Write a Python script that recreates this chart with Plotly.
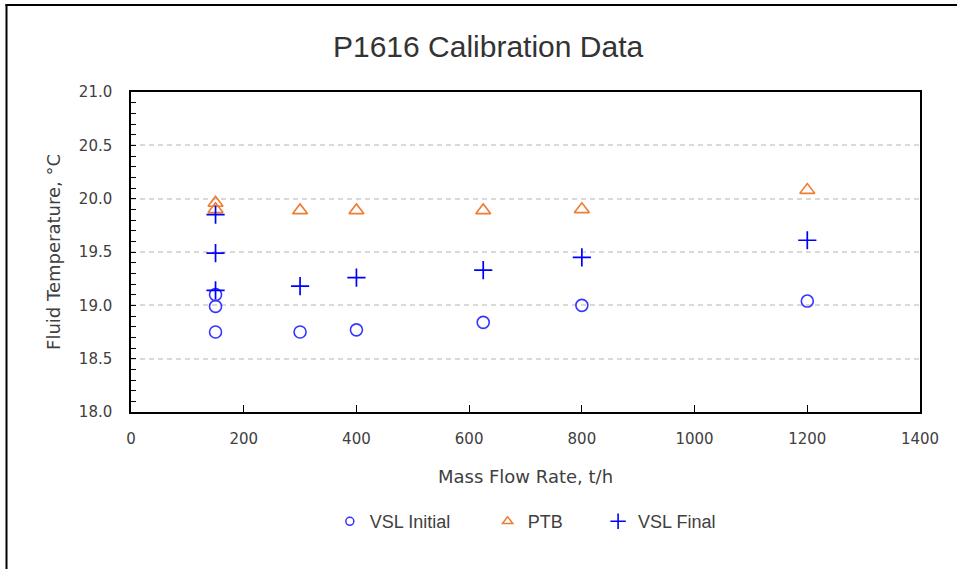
import plotly.graph_objects as go

# Calibration points: mass flow rate (t/h) and fluid temperature (°C)
vsl_initial_flow = [150, 150, 150, 300, 400, 625, 800, 1200]
vsl_initial_temp = [18.75, 18.99, 19.10, 18.75, 18.77, 18.84, 19.00, 19.04]

ptb_flow = [150, 150, 300, 400, 625, 800, 1200]
ptb_temp = [19.96, 19.90, 19.89, 19.89, 19.89, 19.90, 20.08]

vsl_final_flow = [150, 150, 150, 300, 400, 625, 800, 1200]
vsl_final_temp = [19.85, 19.49, 19.14, 19.18, 19.26, 19.33, 19.45, 19.61]

x_ticks = [0, 200, 400, 600, 800, 1000, 1200, 1400]
y_ticks = [18.0, 18.5, 19.0, 19.5, 20.0, 20.5, 21.0]

BLUE_CIRCLE = "#3535FF"
BLUE_CROSS = "#0000FF"
ORANGE = "#ED7D31"
TEXT = "#404040"

fig = go.Figure()

# data series (legend entries are drawn with smaller markers below)
fig.add_trace(go.Scatter(
    x=vsl_initial_flow, y=vsl_initial_temp, mode="markers", showlegend=False,
    marker=dict(symbol="circle-open", size=12, color=BLUE_CIRCLE,
                line=dict(width=1.6, color=BLUE_CIRCLE)),
))
fig.add_trace(go.Scatter(
    x=ptb_flow, y=ptb_temp, mode="markers", showlegend=False,
    marker=dict(symbol="triangle-up-open", size=13, color=ORANGE,
                line=dict(width=1.6, color=ORANGE)),
))
fig.add_trace(go.Scatter(
    x=vsl_final_flow, y=vsl_final_temp, mode="markers", showlegend=False,
    marker=dict(symbol="cross-thin-open", size=13, color=BLUE_CROSS,
                line=dict(width=1.7, color=BLUE_CROSS)),
))

# legend entries
fig.add_trace(go.Scatter(
    x=[None], y=[None], mode="markers", name="VSL Initial", legend="legend",
    marker=dict(symbol="circle-open", size=8, color=BLUE_CIRCLE,
                line=dict(width=1.5, color=BLUE_CIRCLE)),
))
fig.add_trace(go.Scatter(
    x=[None], y=[None], mode="markers", name="PTB", legend="legend2",
    marker=dict(symbol="triangle-up-open", size=9, color=ORANGE,
                line=dict(width=1.5, color=ORANGE)),
))
fig.add_trace(go.Scatter(
    x=[None], y=[None], mode="markers", name="VSL Final", legend="legend3",
    marker=dict(symbol="cross-thin-open", size=11, color=BLUE_CROSS,
                line=dict(width=1.6, color=BLUE_CROSS)),
))

legend_font = dict(family="Liberation Sans", size=18, color=TEXT)
legend_common = dict(orientation="h", yanchor="middle", y=-0.3425, xanchor="left",
                     font=legend_font, bgcolor="rgba(0,0,0,0)", borderwidth=0)

fig.update_layout(
    width=957, height=569,
    margin=dict(l=131, r=37, t=92, b=157),
    paper_bgcolor="white", plot_bgcolor="white",
    title=dict(text="P1616 Calibration Data", x=0.51, xanchor="center",
               y=1 - 46 / 569, yanchor="middle",
               font=dict(family="Liberation Sans", size=30, color="#333333")),
    legend=dict(x=0.252, **legend_common),
    legend2=dict(x=0.452, **legend_common),
    legend3=dict(x=0.592, **legend_common),
    xaxis=dict(
        range=[0, 1400], tickvals=x_ticks, ticktext=[str(v) for v in x_ticks],
        showgrid=False, zeroline=False,
        showline=True, linecolor="black", linewidth=1.5, mirror=True,
        ticks="inside", ticklen=7, tickwidth=1.3, tickcolor="black",
        tickfont=dict(family="DejaVu Sans", size=15, color=TEXT),
        ticklabelstandoff=12,
        title=dict(text="Mass Flow Rate, t/h", standoff=24,
                   font=dict(family="DejaVu Sans", size=18, color=TEXT)),
    ),
    yaxis=dict(
        range=[18, 21], tickvals=y_ticks, ticktext=[f"{v:.1f}" for v in y_ticks],
        showgrid=True, gridcolor="#D9D9D9", gridwidth=1.5, griddash="5px,4px",
        zeroline=False,
        showline=True, linecolor="black", linewidth=1.5, mirror=True,
        ticks="inside", ticklen=5, tickwidth=1.2, tickcolor="black",
        minor=dict(dtick=0.1, ticks="inside", ticklen=5, tickwidth=1.2,
                   tickcolor="black", showgrid=False),
        tickfont=dict(family="DejaVu Sans", size=15, color=TEXT),
        ticklabelstandoff=14,
        title=dict(text="Fluid Temperature, °C", standoff=14,
                   font=dict(family="DejaVu Sans", size=18, color=TEXT)),
    ),
)

# outer chart frame (left and top edges)
fig.add_shape(type="line", xref="paper", yref="paper",
              x0=(6.5 - 131) / 789, x1=(6.5 - 131) / 789,
              y0=(412 - 575) / 320, y1=(412 - 4) / 320,
              line=dict(color="black", width=2))
fig.add_shape(type="line", xref="paper", yref="paper",
              x0=(5.5 - 131) / 789, x1=(960 - 131) / 789,
              y0=(412 - 5) / 320, y1=(412 - 5) / 320,
              line=dict(color="black", width=2))

fig.write_html("out.html")
